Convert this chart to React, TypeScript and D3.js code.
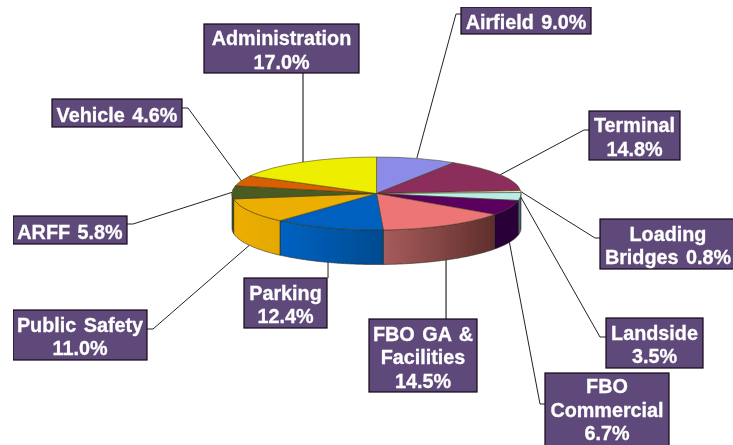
import { useEffect, useRef } from "react";
import * as d3 from "d3";

const categories = ["Airfield", "Terminal", "Loading Bridges", "Landside", "FBO Commercial", "FBO GA & Facilities", "Parking", "Public Safety", "ARFF", "Vehicle", "Administration"];
const shares = [9.0, 14.8, 0.8, 3.5, 6.7, 14.5, 12.4, 11.0, 5.8, 4.6, 17.0];
const topColors = ["#8c8ce8", "#8c2d5c", "#fff8c8", "#b8ece8", "#5c0060", "#ee7475", "#0060c0", "#ecae00", "#4a5a20", "#d86000", "#eeee00"];
const wallFrom = ["#6a6ab0", "#6a2246", "#bcb890", "#5a7c88", "#2a0038", "#a85c5c", "#0062c2", "#ecae00", "#4a5a20", "#a04800", "#b0b000"];
const wallTo = ["#6a6ab0", "#6a2246", "#bcb890", "#38505c", "#2a0038", "#5e2e2c", "#004a90", "#e4a800", "#3c4a18", "#a04800", "#b0b000"];

// label text per slice; inline means the value stays on the last text line
const labelLines = [["Airfield"], ["Terminal"], ["Loading", "Bridges"], ["Landside"], ["FBO", "Commercial"], ["FBO GA &", "Facilities"], ["Parking"], ["Public Safety"], ["ARFF"], ["Vehicle"], ["Administration"]];
const labelInline = [true, false, true, false, false, false, false, false, true, true, false];

// box x, y, w, h
const labelBoxes = [
  [461, 7, 130, 27], [589, 111, 91, 49], [600, 219, 136, 50], [606, 318, 97, 50],
  [545, 373, 124, 76], [369, 319, 108, 73], [244, 278, 83, 50], [13, 310, 134, 50],
  [13, 216, 114, 28], [52, 99, 130, 28], [204, 24, 155, 49],
];
// the FBO Commercial box runs off the page, so its text sits higher than centre
const labelNudge = [0, 0, 0, 0, -3, 0, 0, 0, 0, 0, 0];
// where the leader leaves the box: [x or null for straight down/up, y], and elbow x
const leaderStart = [
  [461, 14], [589, 130], [600, 238], [606, 337], [545, 404], [null, 319], [null, 278],
  [147, 329], [127, 224], [182, 108], [null, 73],
];
const leaderElbow = [456, 584, 595, 600, 540, null, null, 153, 133, 188, null];
const leaderOnWall = [false, false, false, false, true, true, true, true, false, false, false];
const leaderColors = ["#222", "#222", "#222", "#222", "#222", "#555", "#222", "#222", "#222", "#222", "#808080"];
const leaderWidths = [1, 1, 1, 1, 1, 1.5, 1, 1, 1, 1, 2];

const width = 733;
const height = 445;
const cx = 376.5;
const cy = 193.5;
const rx = 144.5;
const ry = 36.5;
const depth = 34.5;

export default function App() {
  const ref = useRef<SVGSVGElement | null>(null);

  useEffect(() => {
    const svg = d3.select(ref.current);
    svg.selectAll("*").remove();

    const defs = svg.append("defs");
    const blur = defs.append("filter").attr("id", "soft").attr("x", 0).attr("y", 0).attr("width", 1).attr("height", 1);
    blur.append("feGaussianBlur").attr("stdDeviation", 0.4);

    const root = svg.append("g").attr("filter", "url(#soft)");

    const slices = d3.pie<number>().sort(null).value((d) => d)(shares);
    const px = (a: number) => cx + rx * Math.sin(a);
    const py = (a: number) => cy - ry * Math.cos(a);

    // leaders go under the pie
    slices.forEach((s, i) => {
      const mid = (s.startAngle + s.endAngle) / 2;
      const ax = px(mid);
      const ay = py(mid) + (leaderOnWall[i] ? depth : 0);
      const [sx, sy] = leaderStart[i];
      const pts: [number, number][] = [[sx ?? ax, sy as number]];
      if (leaderElbow[i] !== null) pts.push([leaderElbow[i] as number, sy as number]);
      pts.push([ax, ay]);
      root.append("path")
        .attr("d", d3.line()(pts))
        .attr("fill", "none")
        .attr("stroke", leaderColors[i])
        .attr("stroke-width", leaderWidths[i]);
    });

    // side walls, only the front half shows
    const wall = d3.area<number>()
      .x((a) => px(a))
      .y0((a) => py(a))
      .y1((a) => py(a) + depth);

    slices.forEach((s, i) => {
      const a0 = Math.max(s.startAngle, Math.PI / 2);
      const a1 = Math.min(s.endAngle, (3 * Math.PI) / 2);
      if (a1 <= a0) return;
      const angles = d3.range(a0, a1, 0.01).concat(a1);
      const id = `wall${i}`;
      const grad = defs.append("linearGradient")
        .attr("id", id)
        .attr("gradientUnits", "userSpaceOnUse")
        .attr("x1", px(a1)).attr("x2", px(a0))
        .attr("y1", 0).attr("y2", 0);
      grad.append("stop").attr("offset", 0).attr("stop-color", wallFrom[i]);
      grad.append("stop").attr("offset", 1).attr("stop-color", wallTo[i]);
      root.append("path")
        .attr("d", wall(angles))
        .attr("fill", `url(#${id})`)
        .attr("stroke", "#2a2a20")
        .attr("stroke-width", 0.6);
    });

    // top face: a flat pie squashed to an ellipse
    const arc = d3.arc<d3.PieArcDatum<number>>().innerRadius(0).outerRadius(rx);
    const top = root.append("g").attr("transform", `translate(${cx},${cy}) scale(1,${ry / rx})`);
    top.selectAll("path")
      .data(slices)
      .join("path")
      .attr("d", arc)
      .attr("fill", (_, i) => topColors[i])
      .attr("stroke", "#3a3410")
      .attr("stroke-width", 0.5)
      .attr("vector-effect", "non-scaling-stroke");

    // labels
    const fmt = d3.format(".1f");
    const lineGap = 23.5;
    categories.forEach((name, i) => {
      const [x, y, w, h] = labelBoxes[i];
      const g = root.append("g").attr("data-name", name);
      g.append("rect")
        .attr("x", x).attr("y", y).attr("width", w).attr("height", h)
        .attr("fill", "#5f4a7a")
        .attr("stroke", "#0c0814")
        .attr("stroke-width", 1.2);
      const value = `${fmt(shares[i])}%`;
      const lines = labelLines[i].slice();
      if (labelInline[i]) lines[lines.length - 1] += ` ${value}`;
      else lines.push(value);
      const firstY = y + h / 2 - ((lines.length - 1) * lineGap) / 2 + 1.5 + labelNudge[i];
      lines.forEach((line, k) => {
        g.append("text")
          .attr("x", x + w / 2)
          .attr("y", firstY + k * lineGap)
          .attr("dy", "0.36em")
          .attr("text-anchor", "middle")
          .attr("font-family", "'Liberation Sans', Arial, sans-serif")
          .attr("font-weight", "bold")
          .attr("font-size", 19.8)
          .attr("word-spacing", 2)
          .attr("fill", "#ffffff")
          .attr("stroke", "#ffffff")
          .attr("stroke-width", 0.3)
          .text(line);
      });
    });
  }, []);

  return (
    <svg
      ref={ref}
      width={width}
      height={height}
      style={{ position: "absolute", left: 0, top: 0, background: "#fff" }}
    />
  );
}
